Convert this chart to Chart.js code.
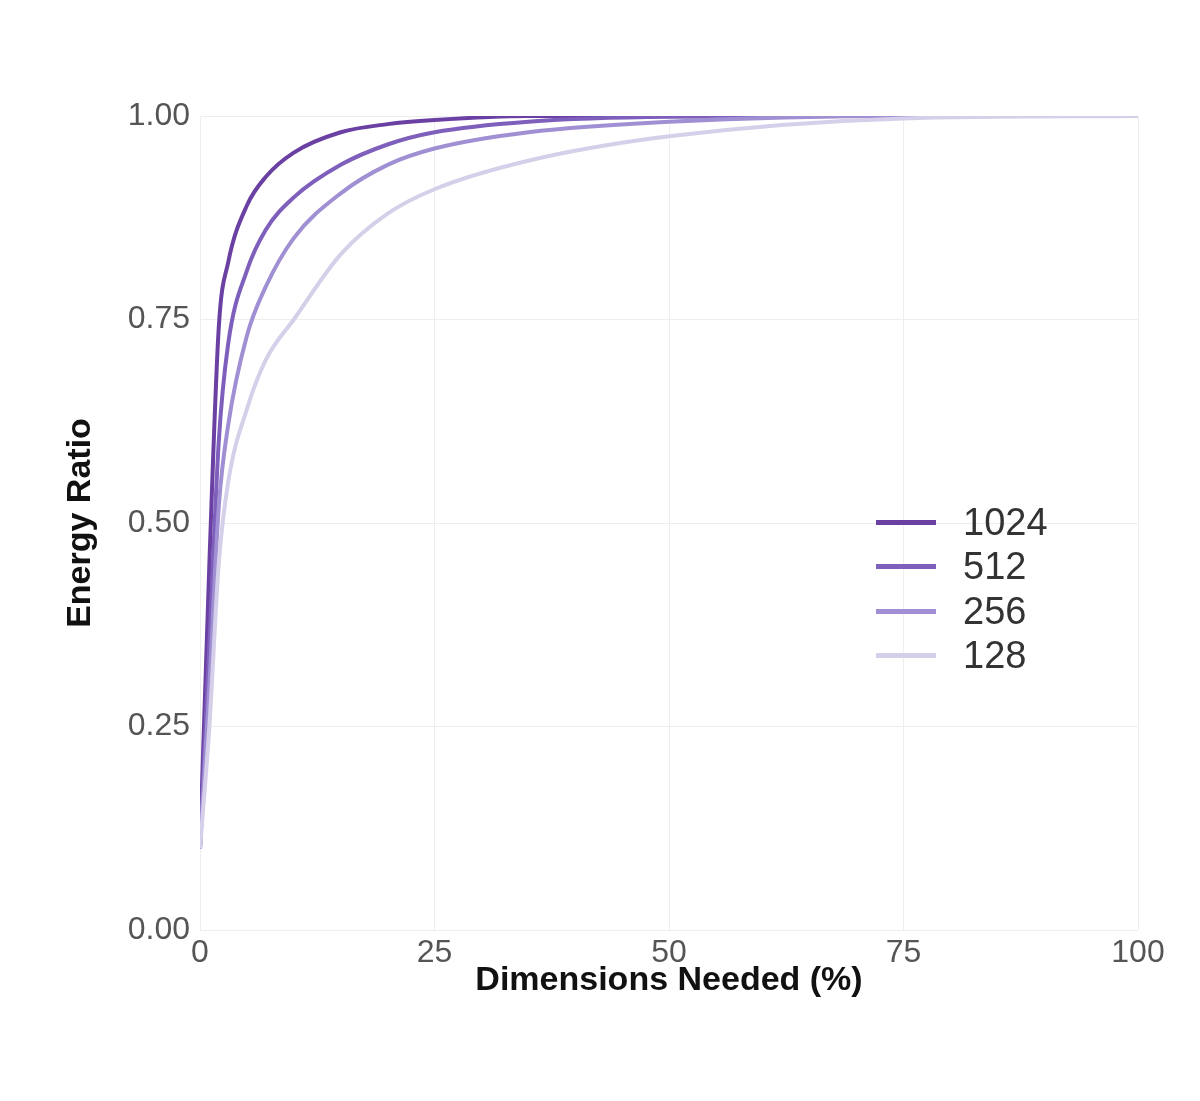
<!DOCTYPE html>
<html>
<head>
<meta charset="utf-8">
<script src="https://cdn.jsdelivr.net/npm/chart.js@4"></script>
<style>
  body { margin: 0; background: #fff; }
  #wrap { position: relative; width: 1200px; height: 1101px; }
  #legend { position: absolute; left: 876px; top: 500px; font-family: "Liberation Sans", Arial, sans-serif; font-size: 38px; color: #333; }
  .row { display: flex; align-items: center; height: 44.5px; }
  .sw { width: 60px; height: 5px; margin-right: 27px; }
</style>
</head>
<body>
<div id="wrap">
  <canvas id="c" width="1200" height="1101"></canvas>
  <div id="legend"></div>
</div>
<script>
const xs = [0, 1, 2, 3, 5, 7, 10, 15, 20, 25, 35, 50, 75, 100];
const s1024 = [0.10, 0.45, 0.74, 0.82, 0.89, 0.925, 0.955, 0.98, 0.99, 0.995, 1.0, 1.0, 1.0, 1.0];
const s512  = [0.10, 0.35, 0.60, 0.72, 0.81, 0.86, 0.90, 0.94, 0.965, 0.98, 0.993, 0.999, 1.0, 1.0];
const s256  = [0.10, 0.30, 0.52, 0.62, 0.73, 0.79, 0.85, 0.905, 0.94, 0.96, 0.98, 0.993, 1.0, 1.0];
const s128  = [0.10, 0.25, 0.45, 0.55, 0.64, 0.70, 0.75, 0.83, 0.88, 0.91, 0.945, 0.975, 0.997, 1.0];
const names = ["1024", "512", "256", "128"];
const colors = ["#6b40a3", "#7e5fbb", "#a08fd3", "#d6cfea"];

const series = [s1024, s512, s256, s128];
const datasets = series.map((s, i) => ({
  label: names[i],
  data: xs.map((x, j) => ({ x, y: s[j] })),
  borderColor: colors[i],
  borderWidth: 4,
  pointRadius: 0,
  fill: false,
  cubicInterpolationMode: "monotone"
})).reverse();

const tickFont = { family: "Liberation Sans", size: 32 };
new Chart(document.getElementById("c"), {
  type: "line",
  data: { datasets },
  options: {
    responsive: false,
    animation: false,
    layout: { padding: { top: 116, right: 62, left: 60, bottom: 100 } },
    plugins: { legend: { display: false }, tooltip: { enabled: false } },
    scales: {
      x: {
        type: "linear", min: 0, max: 100,
        ticks: { stepSize: 25, color: "#555", font: tickFont, padding: 4 },
        grid: { color: "#eeeeee", drawTicks: false },
        border: { display: false },
        title: { display: true, text: "Dimensions Needed (%)", color: "#111", font: { family: "Liberation Sans", size: 34, weight: "bold" }, padding: 0 },
        afterFit: s => { s.height = 71; }
      },
      y: {
        min: 0, max: 1,
        ticks: { stepSize: 0.25, color: "#555", font: tickFont, padding: 10, callback: v => v.toFixed(2) },
        grid: { color: "#eeeeee", drawTicks: false },
        border: { display: false },
        title: { display: true, text: "Energy Ratio", color: "#111", font: { family: "Liberation Sans", size: 34, weight: "bold" }, padding: 0 },
        afterFit: s => { s.width = 140; }
      }
    }
  }
});

const lg = document.getElementById("legend");
names.forEach((n, i) => {
  const r = document.createElement("div");
  r.className = "row";
  r.innerHTML = `<div class="sw" style="background:${colors[i]}"></div><span>${n}</span>`;
  lg.appendChild(r);
});
</script>
</body>
</html>
